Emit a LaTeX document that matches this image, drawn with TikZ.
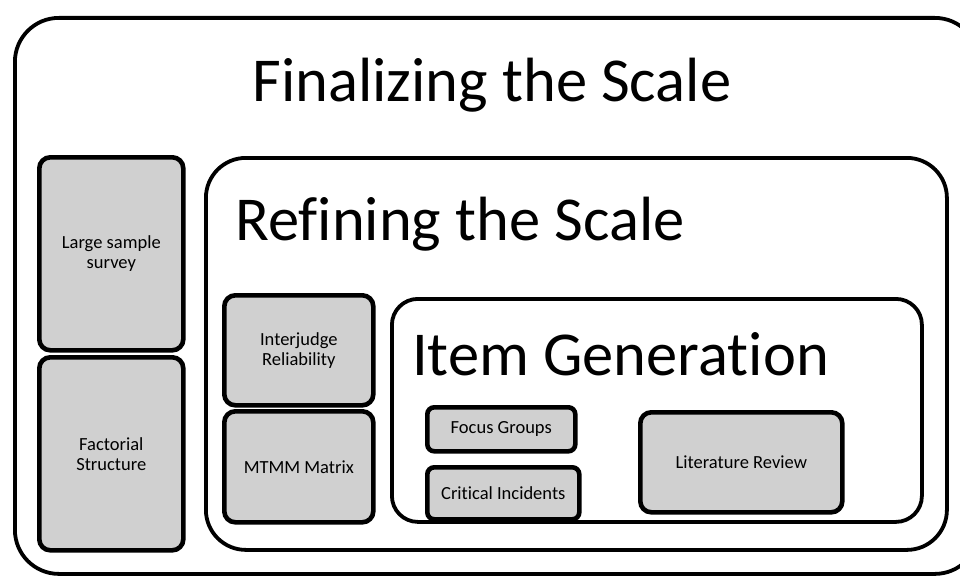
\documentclass[tikz,border=0pt]{standalone}
\usepackage{fontspec}
\setmainfont{Carlito}[Ligatures=NoCommon]
\definecolor{boxgray}{RGB}{208,208,208}
\begin{document}
\begin{tikzpicture}[x=1pt,y=-1pt,
  framebox/.style={draw=black, fill=white, line width=3.8pt, inner sep=0pt, anchor=north west},
  gbox/.style={draw=black, fill=boxgray, line width=4.6pt, inner sep=0pt, anchor=north west,
     rounded corners=11pt, align=center, font=\fontsize{18.5}{20}\selectfont},
  title/.style={inner sep=0pt, font=\fontsize{62.5}{70}\selectfont}]
\useasboundingbox (0,0) rectangle (960,575);
\clip (0,0) rectangle (960,575);
\fill[white] (0,0) rectangle (960,575);
% outer frame
\node[framebox, rounded corners=44pt, minimum width=964pt, minimum height=556pt] (final) at (13,16) {};
\node[title, anchor=base] (finaltitle) at (492,102) {Finalizing the Scale};
% left column
\node[gbox, minimum width=144pt, minimum height=193pt] (large) at (37,155) {Large sample\\survey};
\node[gbox, minimum width=144pt, minimum height=193pt] (fact) at (37,355) {Factorial\\Structure};
% refining frame
\node[framebox, rounded corners=40pt, minimum width=741pt, minimum height=392pt] (refine) at (204,156) {};
\node[title, anchor=base west] (refinetitle) at (235,240) {Refining the Scale};
\node[gbox, minimum width=149pt, minimum height=110pt] (inter) at (222,293) {Interjudge\\Reliability};
\node[gbox, minimum width=149pt, minimum height=111pt] (mtmm) at (222,409) {MTMM Matrix};
% item generation frame
\node[framebox, rounded corners=26pt, minimum width=530pt, minimum height=223pt] (item) at (390,297) {};
\node[title, anchor=base west] (itemtitle) at (412,375) {Item Generation};
\node[gbox, rounded corners=7pt, minimum width=148pt, minimum height=44pt] (focus) at (425,405) {Focus Groups};
\node[gbox, rounded corners=7pt, minimum width=152pt, minimum height=52pt] (crit) at (425,465) {Critical Incidents};
\node[gbox, minimum width=202pt, minimum height=100pt] (lit) at (638,410) {Literature Review};
\end{tikzpicture}
\end{document}
